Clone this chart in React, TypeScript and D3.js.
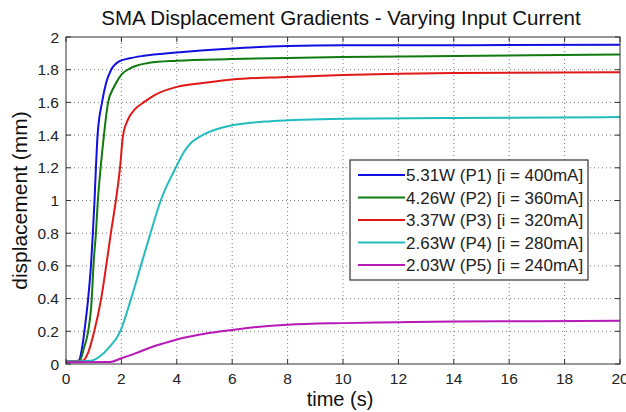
import React from "react";
import * as d3 from "d3";

const title = "SMA Displacement Gradients - Varying Input Current";
const xLabel = "time (s)";
const yLabel = "displacement (mm)";
const xTicks = [0, 2, 4, 6, 8, 10, 12, 14, 16, 18, 20];
const yTicks = [0, 0.2, 0.4, 0.6, 0.8, 1, 1.2, 1.4, 1.6, 1.8, 2];

const seriesNames = [
  "5.31W (P1) [i = 400mA]",
  "4.26W (P2) [i = 360mA]",
  "3.37W (P3) [i = 320mA]",
  "2.63W (P4) [i = 280mA]",
  "2.03W (P5) [i = 240mA]",
];
const seriesColors = ["#1010e0", "#107a10", "#e01818", "#22bcbc", "#b818b8"];

const p1Time = [0, 0.45, 0.6, 0.7, 0.8, 0.9, 0.97, 1.03, 1.08, 1.14, 1.3, 1.45, 1.63, 1.9, 2.3, 2.8, 4, 6, 8, 10, 14, 20];
const p1Disp = [0.015, 0.02, 0.12, 0.25, 0.4, 0.6, 0.8, 1.0, 1.2, 1.4, 1.6, 1.72, 1.8, 1.85, 1.87, 1.885, 1.905, 1.93, 1.945, 1.95, 1.95, 1.952];

const p2Time = [0, 0.5, 0.65, 0.8, 0.93, 0.99, 1.08, 1.15, 1.25, 1.37, 1.52, 1.75, 2.0, 2.4, 3, 4, 6, 8, 10, 14, 20];
const p2Disp = [0.015, 0.02, 0.1, 0.2, 0.4, 0.6, 0.8, 1.0, 1.2, 1.4, 1.6, 1.7, 1.77, 1.815, 1.842, 1.855, 1.865, 1.872, 1.878, 1.884, 1.893];

const p3Time = [0, 0.6, 0.8, 1.02, 1.27, 1.45, 1.62, 1.8, 1.95, 2.06, 2.25, 2.5, 2.8, 3.2, 4, 5, 6, 8, 10, 12, 14, 20];
const p3Disp = [0.015, 0.02, 0.07, 0.2, 0.4, 0.6, 0.8, 1.0, 1.2, 1.4, 1.5, 1.56, 1.6, 1.645, 1.695, 1.72, 1.74, 1.755, 1.767, 1.775, 1.78, 1.785];

const p4Time = [0, 0.9, 1.25, 1.55, 1.96, 2.35, 2.7, 3.05, 3.42, 3.96, 4.27, 4.5, 5.05, 6, 7.4, 10, 14, 20];
const p4Disp = [0.015, 0.02, 0.05, 0.1, 0.2, 0.4, 0.6, 0.8, 1.0, 1.2, 1.3, 1.35, 1.41, 1.46, 1.485, 1.5, 1.505, 1.51];

const p5Time = [0, 1.6, 2.0, 2.5, 3.0, 3.5, 4, 5, 6, 7, 8, 10, 12, 14, 17, 20];
const p5Disp = [0.01, 0.012, 0.035, 0.065, 0.098, 0.125, 0.15, 0.185, 0.208, 0.228, 0.24, 0.25, 0.255, 0.26, 0.262, 0.265];

const seriesTimes = [p1Time, p2Time, p3Time, p4Time, p5Time];
const seriesDisps = [p1Disp, p2Disp, p3Disp, p4Disp, p5Disp];

const W = 626;
const H = 412;
const M = { left: 66, right: 6, top: 37, bottom: 48 };

export default function App() {
  const x = d3.scaleLinear().domain([0, 20]).range([M.left, W - M.right]);
  const y = d3.scaleLinear().domain([0, 2]).range([H - M.bottom, M.top]);
  const line = d3
    .line<[number, number]>()
    .x((d) => x(d[0]))
    .y((d) => y(d[1]))
    .curve(d3.curveMonotoneX);

  const x0 = x(0), x1 = x(20), y0 = y(0), y1 = y(2);
  const font = "'Liberation Sans', Arial, sans-serif";
  const tickLen = 5;

  const legX = 350, legY = 160, legW = 238, legH = 120, rowH = 22.5;

  return (
    <div style={{ position: "absolute", left: 0, top: 0 }}>
      <svg width={W} height={H} style={{ display: "block", background: "#fff" }} fontFamily={font}>
        <rect x={0} y={0} width={W} height={H} fill="#fff" />
        {/* grid */}
        <g stroke="#7a7a7a" strokeWidth={1} strokeDasharray="1,3">
          {xTicks.slice(1, -1).map((t) => (
            <line key={"gx" + t} x1={x(t)} x2={x(t)} y1={y0} y2={y1} />
          ))}
          {yTicks.slice(1, -1).map((t) => (
            <line key={"gy" + t} x1={x0} x2={x1} y1={y(t)} y2={y(t)} />
          ))}
        </g>
        {/* curves */}
        <g fill="none" strokeWidth={2} strokeLinejoin="round">
          {seriesTimes.map((ts, i) => (
            <path
              key={"s" + i}
              d={line(ts.map((t, j) => [t, seriesDisps[i][j]] as [number, number])) || ""}
              stroke={seriesColors[i]}
            />
          ))}
        </g>
        {/* frame and ticks */}
        <g stroke="#333" strokeWidth={1}>
          <rect x={x0} y={y1} width={x1 - x0} height={y0 - y1} fill="none" />
          {xTicks.map((t) => (
            <g key={"tx" + t}>
              <line x1={x(t)} x2={x(t)} y1={y0} y2={y0 - tickLen} />
              <line x1={x(t)} x2={x(t)} y1={y1} y2={y1 + tickLen} />
            </g>
          ))}
          {yTicks.map((t) => (
            <g key={"ty" + t}>
              <line x1={x0} x2={x0 + tickLen} y1={y(t)} y2={y(t)} />
              <line x1={x1} x2={x1 - tickLen} y1={y(t)} y2={y(t)} />
            </g>
          ))}
        </g>
        {/* tick labels */}
        <g fontSize={15.5} fill="#222">
          {xTicks.map((t) => (
            <text key={"lx" + t} x={x(t)} y={y0 + 20} textAnchor="middle">
              {t}
            </text>
          ))}
          {yTicks.map((t) => (
            <text key={"ly" + t} x={x0 - 7} y={y(t) + 5.5} textAnchor="end">
              {t}
            </text>
          ))}
        </g>
        {/* labels */}
        <text x={341} y={25} textAnchor="middle" fontSize={20.5} fill="#111">
          {title}
        </text>
        <text x={340} y={406} textAnchor="middle" fontSize={20} fill="#111">
          {xLabel}
        </text>
        <text
          transform={`translate(27,${(y0 + y1) / 2}) rotate(-90)`}
          textAnchor="middle"
          fontSize={21}
          fill="#111"
        >
          {yLabel}
        </text>
        {/* legend */}
        <g>
          <rect x={legX} y={legY} width={legW} height={legH} fill="#fff" stroke="#333" strokeWidth={1.2} />
          {seriesNames.map((n, i) => {
            const ly = legY + 15 + i * rowH;
            return (
              <g key={"lg" + i}>
                <line x1={legX + 8} x2={legX + 55} y1={ly} y2={ly} stroke={seriesColors[i]} strokeWidth={2} />
                <text x={legX + 56} y={ly + 6} fontSize={17} fill="#222">
                  {n}
                </text>
              </g>
            );
          })}
        </g>
      </svg>
    </div>
  );
}
